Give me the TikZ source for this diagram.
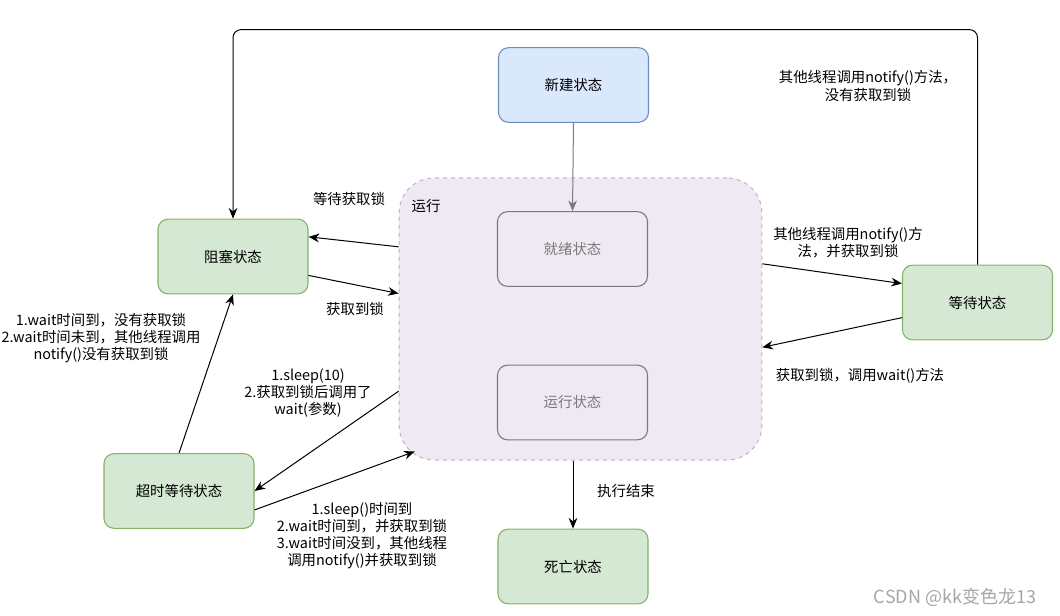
\documentclass[tikz,border=0pt]{standalone}
\usepackage{fontspec}
\setmainfont{Noto Sans CJK SC}
\usetikzlibrary{arrows.meta,calc}
\definecolor{greenfill}{HTML}{D5E8D4}
\definecolor{greenline}{HTML}{82B366}
\definecolor{bluefill}{HTML}{DAE8FC}
\definecolor{blueline}{HTML}{6C8EBF}
\definecolor{runfill}{HTML}{EFE9F3}
\definecolor{runline}{HTML}{C5AED3}
\definecolor{innerline}{HTML}{7A7A7A}
\definecolor{markgray}{HTML}{A6A6A6}

\begin{document}
\begin{tikzpicture}[x=0.75pt,y=0.75pt,yscale=-1,xscale=1,
	every node/.style={font=\fontsize{10.8}{12.8}\selectfont},
	state/.style={draw=greenline, fill=greenfill, line width=0.8pt, rounded corners=7.5pt, minimum width=112.5pt, minimum height=56pt},
	newstate/.style={state, draw=blueline, fill=bluefill},
	inner/.style={state, draw=innerline, fill=runfill, text=innerline},
	group/.style={draw=runline, fill=runfill, dashed, line width=0.75pt, rounded corners=26pt, minimum width=272pt, minimum height=211.5pt},
	arr/.style={-{Stealth[length=8pt,width=6.5pt]}, line width=0.75pt},
	lbl/.style={align=center, inner sep=0pt}]
	\useasboundingbox (0,0) rectangle (1060,616);

	\node[group] (run) at (580.5,319) {};
	\node[lbl] (runtitle) at (426,206) {运行};
	\node[newstate] (new) at (573.5,85) {新建状态};
	\node[inner] (ready) at (572.5,249) {就绪状态};
	\node[inner] (running) at (572.5,402.5) {运行状态};
	\node[state] (block) at (233,256.5) {阻塞状态};
	\node[state] (wait) at (977.5,302.5) {等待状态};
	\node[state] (timed) at (179,491) {超时等待状态};
	\node[state] (dead) at (573,566.5) {死亡状态};

	\draw[arr, draw=innerline] (new.south) -- (ready.north);
	\draw[arr] (run.south -| dead.north) -- (dead.north);
	\draw[arr, rounded corners=6pt] (wait.north) -- ++(0,-235) -| (block.north);
	\draw[arr] ($(run.north west)!0.245!(run.south west)$) -- ($(block.north east)!0.24!(block.south east)$);
	\draw[arr] ($(block.north east)!0.75!(block.south east)$) -- ($(run.north west)!0.41!(run.south west)$);
	\draw[arr] ($(run.north east)!0.305!(run.south east)$) -- ($(wait.north west)!0.25!(wait.south west)$);
	\draw[arr] ($(wait.north west)!0.7!(wait.south west)$) -- ($(run.north east)!0.6!(run.south east)$);
	\draw[arr] (timed.north) -- (block.south);
	\draw[arr] ($(run.north west)!0.755!(run.south west)$) -- (timed.east);
	\draw[arr] ($(timed.north east)!0.75!(timed.south east)$) -- ($(run.south west)+(16,-9)$);

	\node[lbl] (lwaitlock) at (349,199) {等待获取锁};
	\node[lbl] (lgetlock) at (355,309) {获取到锁};
	\node[lbl] (lnotify) at (848,242.5) {其他线程调用notify()方\\法，并获取到锁};
	\node[lbl] (lcallwait) at (860,376) {获取到锁，调用wait()方法};
	\node[lbl] (lnolock) at (868,86) {其他线程调用notify()方法，\\没有获取到锁};
	\node[lbl] (ltimeout) at (101,338) {1.wait时间到，没有获取锁\\2.wait时间未到，其他线程调用\\notify()没有获取到锁};
	\node[lbl] (lsleep) at (308,393) {1.sleep(10)\\2.获取到锁后调用了\\wait(参数)};
	\node[lbl] (lwake) at (362,536) {1.sleep()时间到\\2.wait时间到，并获取到锁\\3.wait时间没到，其他线程\\调用notify()并获取到锁};
	\node[lbl] (lend) at (626,491) {执行结束};
	\node[lbl, text=markgray, font=\fontsize{13.5}{15}\selectfont] (mark) at (955,597) {CSDN @kk变色龙13};
\end{tikzpicture}
\end{document}
